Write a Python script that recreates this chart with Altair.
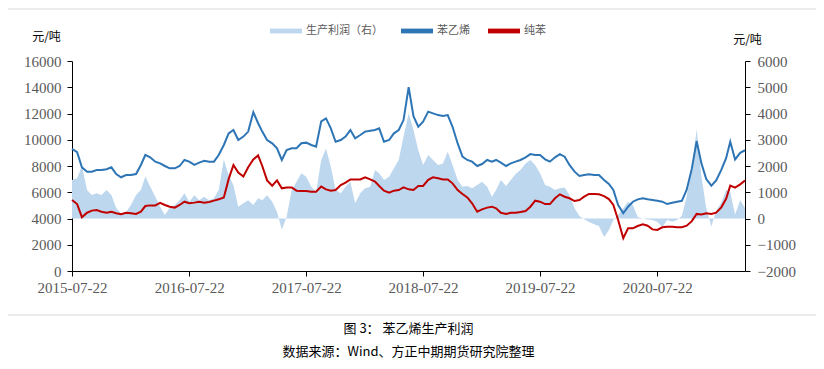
import altair as alt
import pandas as pd

# ---------------- data (semi-monthly readings, 2015-07-22 .. 2021-04-22) ----------------
SERIES = ["生产利润（右）", "苯乙烯", "纯苯"]
COLORS = ["#BDD7EE", "#2E75B6", "#C00000"]

styrene = [
    9300, 9050, 7900, 7570, 7570, 7700, 7700, 7750, 7900, 7390, 7140, 7310,
    7310, 7390, 8080, 8840, 8660, 8330, 8200, 8000, 7820, 7820, 8000, 8460,
    8330, 8080, 8260, 8400, 8330, 8330, 8840, 9600, 10490, 10740, 9980, 10240,
    10620, 12100, 11260, 10620, 9980, 9730, 9350, 8460, 9220, 9350, 9350, 9730,
    9780, 9600, 9470, 11400, 11630, 10870, 9850, 9980, 10240, 10740, 10110, 10360,
    10620, 10690, 10740, 10870, 9850, 9980, 10490, 10740, 11500, 14000, 11800, 11000,
    11380, 12140, 12010, 11880, 11810, 11880, 10990, 9720, 8710, 8460, 8330, 8000,
    8150, 8460, 8330, 8460, 8260, 8000, 8200, 8330, 8460, 8660, 8910, 8840,
    8840, 8510, 8330, 8660, 8910, 8710, 8080, 7570, 7240, 7310, 7370, 7310,
    7310, 6940, 6630, 6170, 5030, 4400, 4900, 5280, 5460, 5540, 5460, 5410,
    5350, 5280, 5100, 5200, 5280, 5350, 6200, 7800, 9900, 8200, 7000, 6500,
    6900, 7700, 8600, 9850, 8500, 9000, 9200,
]

benzene = [
    5410, 5100, 4100, 4440, 4600, 4650, 4520, 4440, 4520, 4400, 4320, 4440,
    4400, 4350, 4520, 4950, 5000, 5000, 5200, 5030, 4900, 4830, 5030, 5280,
    5160, 5210, 5280, 5210, 5260, 5360, 5460, 5600, 7000, 8080, 7500, 7200,
    7900, 8500, 8800, 8000, 6900, 6500, 6900, 6300, 6370, 6370, 6120, 6100,
    6100, 6040, 6040, 6430, 6220, 6120, 6170, 6550, 6730, 6980, 6980, 6980,
    7140, 6980, 6810, 6480, 6120, 5970, 6120, 6170, 6370, 6220, 6170, 6480,
    6480, 6940, 7140, 7060, 6980, 6980, 6680, 6170, 5870, 5610, 5160, 4520,
    4700, 4830, 4900, 4780, 4440, 4340, 4440, 4440, 4490, 4570, 4900, 5360,
    5280, 5100, 5100, 5540, 5840, 5660, 5540, 5330, 5410, 5660, 5870, 5870,
    5840, 5710, 5480, 5030, 3890, 2500, 3250, 3250, 3430, 3560, 3450, 3170,
    3130, 3330, 3380, 3380, 3330, 3330, 3450, 3800, 4350, 4300, 4400, 4350,
    4450, 4850, 5500, 6500, 6350, 6600, 6900,
]

profit = [
    1470, 1530, 2000, 1090, 900, 960, 900, 1090, 900, 400, 190, 250,
    510, 900, 1090, 1600, 1220, 830, 450, 130, 400, 510, 700, 960,
    640, 890, 700, 830, 700, 770, 1090, 2250, 1660, 1270, 450, 580,
    700, 510, 770, 700, 890, 640, 250, -420, 60, 1090, 1400, 1720,
    1590, 1210, 1010, 2230, 2670, 1970, 1090, 960, 1210, 1400, 580, 960,
    1150, 1210, 1850, 1720, 1470, 1590, 1910, 2230, 3120, 4010, 3370, 2610,
    2040, 2420, 2230, 2040, 2100, 2540, 2040, 1470, 1210, 1240, 1150, 1280,
    1400, 1210, 830, 1090, 1470, 1240, 1470, 1700, 1850, 2100, 2230, 2040,
    1720, 1280, 1210, 1090, 1150, 1180, 900, 390, 100, -30, -130, -220,
    -290, -700, -450, -60, 130, 390, 640, 510, 60, 0, -40, -60,
    -120, -320, -60, -120, -60, 100, 850, 1900, 3400, 1600, 400, -300,
    300, 600, 1100, 1000, 150, 700, 400,
]

X_TICK_YEARS = [2015, 2016, 2017, 2018, 2019, 2020]


def semi_monthly_dates(n):
    out = []
    for k in range(n):
        mi = k // 2
        if k % 2 == 0:
            mm, day = 7 + mi, 22
        else:
            mm, day = 8 + mi, 7
        yy = 2015 + (mm - 1) // 12
        mm = (mm - 1) % 12 + 1
        out.append(f"{yy:04d}-{mm:02d}-{day:02d}")
    return out


dates = semi_monthly_dates(len(styrene))

df_profit = pd.DataFrame({"date": dates, "series": SERIES[0], "value": profit})
df_lines = pd.concat([
    pd.DataFrame({"date": dates, "series": SERIES[1], "value": styrene}),
    pd.DataFrame({"date": dates, "series": SERIES[2], "value": benzene}),
])

CJK = "Noto Sans CJK SC"
SERIF = "Liberation Serif"
GRAY = "#595959"

color_scale = alt.Scale(domain=SERIES, range=COLORS)

x_enc = alt.X(
    "date:T",
    scale=alt.Scale(
        type="utc",
        domain=[alt.DateTime(year=2015, month=7, date=22, utc=True),
                alt.DateTime(year=2021, month=4, date=22, utc=True)],
    ),
    axis=alt.Axis(
        values=[alt.DateTime(year=y, month=7, date=22, utc=True) for y in X_TICK_YEARS],
        labelExpr="utcFormat(datum.value, '%Y-%m-%d')", title=None,
        labelPadding=4, labelFlush=False,
    ),
)

legend = alt.Legend(
    title=None, orient="none", legendX=198, legendY=-46, direction="horizontal",
    symbolType="M-1,-0.15L1,-0.15L1,0.15L-1,0.15Z", symbolSize=1024,
    symbolStrokeWidth=0, labelFont=CJK, labelFontSize=11, labelColor=GRAY,
    labelOffset=4, columnPadding=18,
)

area = alt.Chart(df_profit).mark_area(opacity=1, interpolate="linear").encode(
    x=x_enc,
    y=alt.Y(
        "value:Q",
        scale=alt.Scale(domain=[-2000, 6000], nice=False, zero=False),
        axis=alt.Axis(
            orient="right", values=list(range(-2000, 6001, 1000)), format="d",
            title="元/吨", titleAngle=0, titleX=2, titleY=-22, titleAlign="center",
            titleBaseline="middle", labelPadding=7,
        ),
    ),
    color=alt.Color("series:N", scale=color_scale, legend=legend),
)

lines = alt.Chart(df_lines).mark_line(strokeWidth=2).encode(
    x=x_enc,
    y=alt.Y(
        "value:Q",
        scale=alt.Scale(domain=[0, 16000], nice=False),
        axis=alt.Axis(
            orient="left", values=list(range(0, 16001, 2000)), format="d",
            title="元/吨", titleAngle=0, titleX=-26, titleY=-25, titleAlign="center",
            titleBaseline="middle", labelPadding=6,
        ),
    ),
    color=alt.Color("series:N", scale=color_scale, legend=legend),
)

sep = alt.Chart(pd.DataFrame({"a": [0]})).mark_rule(color="#D9D9D9", strokeWidth=1).encode(
    x=alt.value(-64), x2=alt.value(744), y=alt.value(254),
)
sep_top = alt.Chart(pd.DataFrame({"a": [0]})).mark_rule(color="#D9D9D9", strokeWidth=1).encode(
    x=alt.value(-64), x2=alt.value(744), y=alt.value(-52),
)

chart = (
    alt.layer(area, lines, sep, sep_top)
    .resolve_scale(y="independent")
    .properties(
        width=673, height=210,
        autosize=alt.AutoSizeParams(type="none"),
        padding={"left": 64, "top": 53, "right": 71, "bottom": 89},
        title=alt.TitleParams(
            text="图 3： 苯乙烯生产利润",
            subtitle="数据来源：Wind、方正中期期货研究院整理",
            orient="bottom", anchor="middle", font=CJK, fontSize=13,
            fontWeight="normal", color="black", subtitleFont=CJK,
            subtitleFontSize=13, subtitleColor="black", offset=7,
            subtitlePadding=10,
        ),
    )
    .configure_view(stroke=None)
    .configure_axis(
        grid=False, domainColor="black", domainWidth=1, tickColor="black",
        tickSize=5, tickWidth=1, labelColor=GRAY, labelFont=SERIF,
        labelFontSize=15, titleFont=CJK, titleFontSize=12,
        titleFontWeight="normal", titleColor="black",
    )
)

chart.save("out.html", embed_options={"renderer": "svg", "actions": False})
